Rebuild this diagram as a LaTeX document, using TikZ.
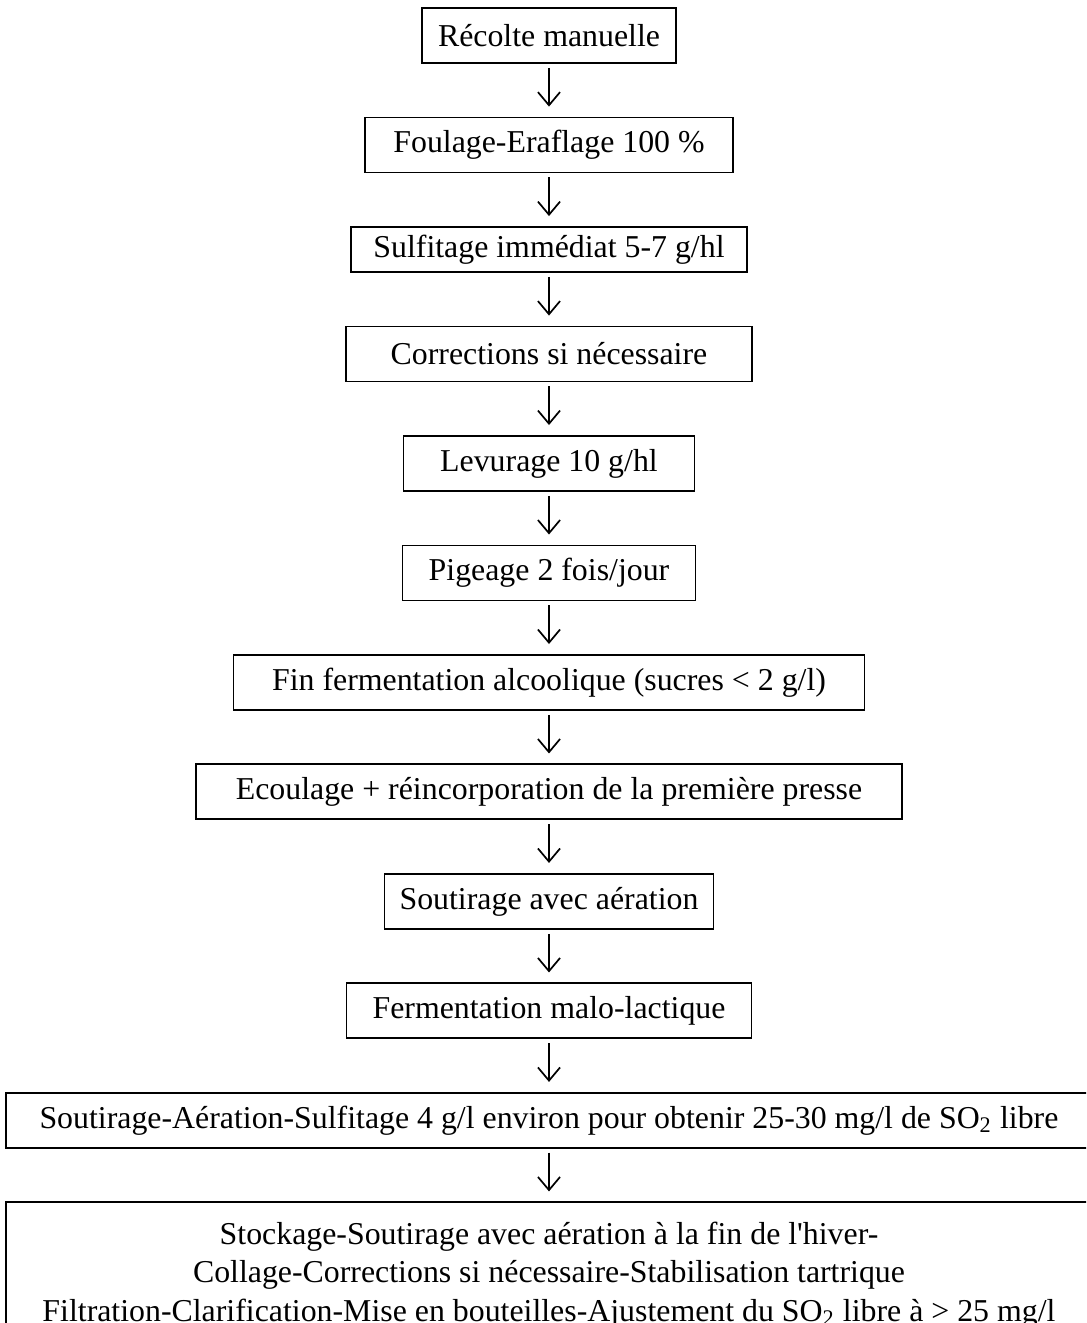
\documentclass[tikz,border=0pt]{standalone}
\usepackage{fontspec}
\setmainfont{Liberation Serif}
\usetikzlibrary{arrows.meta,positioning}

\begin{document}
\begin{tikzpicture}[node distance=20pt, etape/.style={draw,line width=0.7pt,minimum height=20.9pt,inner sep=0pt,align=center,font=\fontsize{12.1}{14.6}\selectfont}, fleche/.style={-{Straight Barb[length=5pt,width=8.4pt,line width=0.65pt]},line width=0.55pt,shorten <=1.5pt,shorten >=3.8pt}]
\useasboundingbox (0,0) rectangle (412.7pt,-502.7pt);
\clip (0,0) rectangle (412.7pt,-502.7pt);
\node[etape,minimum width=96.5pt] (rec) at (208.6pt,-13.5pt) {Récolte manuelle};
\node[etape,minimum width=139.8pt,below=of rec] (fou) {Foulage-Eraflage 100 \%};
\node[etape,minimum width=150.5pt,minimum height=17.1pt,below=of fou] (sul) {Sulfitage immédiat 5-7 g/hl};
\node[etape,minimum width=154.3pt,below=of sul] (cor) {Corrections si nécessaire};
\node[etape,minimum width=110.6pt,below=of cor] (lev) {Levurage 10 g/hl};
\node[etape,minimum width=111.3pt,below=of lev] (pig) {Pigeage 2 fois/jour};
\node[etape,minimum width=239.8pt,below=of pig] (fin) {Fin fermentation alcoolique (sucres < 2 g/l)};
\node[etape,minimum width=268.3pt,below=of fin] (eco) {Ecoulage + réincorporation de la première presse};
\node[etape,minimum width=125pt,below=of eco] (sou) {Soutirage avec aération};
\node[etape,minimum width=153.9pt,below=of sou] (mal) {Fermentation malo-lactique};
\node[etape,minimum width=412.7pt,below=of mal] (sas) {Soutirage-Aération-Sulfitage 4 g/l environ pour obtenir 25-30 mg/l de SO\textsubscript{2} libre};
\node[etape,minimum width=412.7pt,inner ysep=7.4pt,below=of sas] (sto) {Stockage-Soutirage avec aération à la fin de l\textquotesingle hiver-\\Collage-Corrections si nécessaire-Stabilisation tartrique\\Filtration-Clarification-Mise en bouteilles-Ajustement du SO\textsubscript{2} libre à > 25 mg/l};
\draw[fleche] (rec) -- (fou);
\draw[fleche] (fou) -- (sul);
\draw[fleche] (sul) -- (cor);
\draw[fleche] (cor) -- (lev);
\draw[fleche] (lev) -- (pig);
\draw[fleche] (pig) -- (fin);
\draw[fleche] (fin) -- (eco);
\draw[fleche] (eco) -- (sou);
\draw[fleche] (sou) -- (mal);
\draw[fleche] (mal) -- (sas);
\draw[fleche] (sas) -- (sto);
\end{tikzpicture}
\end{document}
